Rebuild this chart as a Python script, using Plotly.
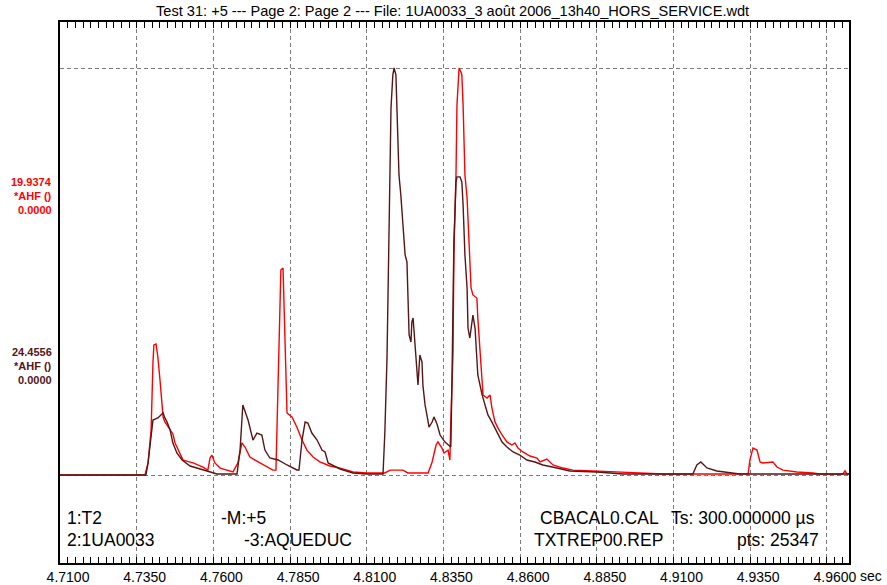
import plotly.graph_objects as go

# ---------------- data ----------------
title_text = "Test 31: +5 --- Page 2: Page 2 --- File: 1UA0033_3 août 2006_13h40_HORS_SERVICE.wdt"

red_t = [4.7100, 4.7377, 4.7387, 4.7397, 4.7403, 4.7406, 4.7413, 4.7419, 4.7426, 4.7432,
         4.7436, 4.7442, 4.7449, 4.7459, 4.7468, 4.7475, 4.7485, 4.7501, 4.7534, 4.7566,
         4.7582, 4.7589, 4.7595, 4.7605, 4.7622, 4.7664, 4.7680, 4.7693, 4.7703, 4.7719,
         4.7736, 4.7752, 4.7775, 4.7794, 4.7804, 4.7811, 4.7817, 4.7820, 4.7827, 4.7833,
         4.7840, 4.7856, 4.7872, 4.7889, 4.7905, 4.7925, 4.7947, 4.7980, 4.8013, 4.8055,
         4.8101, 4.8159, 4.8176, 4.8218, 4.8234, 4.8300, 4.8313, 4.8326, 4.8332, 4.8345,
         4.8352, 4.8365, 4.8371, 4.8374, 4.8381, 4.8384, 4.8391, 4.8394, 4.8401, 4.8407,
         4.8410, 4.8414, 4.8420, 4.8427, 4.8433, 4.8440, 4.8446, 4.8459, 4.8462, 4.8469,
         4.8479, 4.8492, 4.8502, 4.8508, 4.8518, 4.8528, 4.8541, 4.8557, 4.8573, 4.8583,
         4.8593, 4.8609, 4.8632, 4.8655, 4.8665, 4.8687, 4.8707, 4.8740, 4.8772, 4.8837,
         4.8916, 4.8958, 4.9065, 4.9343, 4.9349, 4.9359, 4.9372, 4.9382, 4.9391, 4.9424,
         4.9437, 4.9457, 4.9502, 4.9554, 4.9577, 4.9652, 4.9659, 4.9665, 4.9672]
red_v = [0.00, 0.00, 0.59, 2.20, 5.49, 6.37, 6.42, 5.78, 4.65, 3.67,
         2.84, 2.60, 2.45, 2.20, 2.01, 1.57, 1.22, 0.73, 0.59, 0.39,
         0.24, 0.83, 0.98, 0.59, 0.34, 0.15, 0.59, 1.57, 1.37, 0.88,
         0.73, 0.59, 0.39, 0.24, 0.24, 4.51, 9.06, 10.04, 10.14, 6.12,
         3.04, 2.84, 2.35, 1.71, 1.22, 0.88, 0.64, 0.44, 0.34, 0.15,
         0.10, 0.10, 0.24, 0.24, 0.10, 0.10, 0.64, 1.47, 1.62, 1.32,
         1.08, 1.22, 0.73, 2.60, 5.88, 10.78, 14.84, 18.12, 19.94, 19.74,
         19.59, 18.12, 14.70, 13.57, 11.76, 9.16, 8.82, 8.67, 7.69, 5.88,
         3.92, 3.77, 3.92, 3.28, 2.60, 2.30, 1.96, 1.62, 1.47, 1.57,
         1.32, 1.13, 0.93, 0.83, 0.64, 0.78, 0.49, 0.34, 0.24, 0.20,
         0.15, 0.10, 0.05, 0.05, 0.73, 1.32, 1.22, 0.64, 0.59, 0.64,
         0.39, 0.24, 0.15, 0.10, 0.05, 0.05, 0.20, 0.05, 0.05]

brown_t = [4.7100, 4.7380, 4.7387, 4.7397, 4.7403, 4.7419, 4.7436, 4.7442, 4.7449, 4.7459,
           4.7468, 4.7481, 4.7498, 4.7524, 4.7566, 4.7612, 4.7677, 4.7687, 4.7696, 4.7713,
           4.7729, 4.7742, 4.7758, 4.7768, 4.7784, 4.7811, 4.7840, 4.7872, 4.7879, 4.7889,
           4.7899, 4.7908, 4.7921, 4.7938, 4.7954, 4.7964, 4.7974, 4.8013, 4.8055, 4.8101,
           4.8153, 4.8159, 4.8166, 4.8172, 4.8179, 4.8185, 4.8189, 4.8195, 4.8198, 4.8205,
           4.8211, 4.8215, 4.8218, 4.8225, 4.8231, 4.8234, 4.8238, 4.8244, 4.8247, 4.8251,
           4.8257, 4.8264, 4.8267, 4.8273, 4.8280, 4.8283, 4.8290, 4.8296, 4.8303, 4.8313,
           4.8319, 4.8329, 4.8339, 4.8355, 4.8365, 4.8374, 4.8378, 4.8384, 4.8391, 4.8394,
           4.8404, 4.8410, 4.8414, 4.8420, 4.8427, 4.8430, 4.8436, 4.8443, 4.8446, 4.8453,
           4.8459, 4.8462, 4.8476, 4.8479, 4.8485, 4.8495, 4.8508, 4.8518, 4.8528, 4.8541,
           4.8557, 4.8577, 4.8599, 4.8622, 4.8648, 4.8674, 4.8720, 4.8762, 4.8850, 4.8935,
           4.9163, 4.9170, 4.9176, 4.9189, 4.9209, 4.9241, 4.9294, 4.9316, 4.9672]
brown_v = [0.00, 0.00, 0.72, 2.28, 3.30, 3.43, 3.73, 3.43, 3.18, 2.70,
           1.92, 1.32, 0.90, 0.54, 0.30, 0.06, 0.06, 1.50, 4.21, 3.30,
           2.10, 2.52, 2.40, 1.50, 1.02, 0.90, 0.60, 0.30, 0.30, 2.10,
           3.18, 3.12, 2.52, 2.10, 1.50, 1.38, 0.72, 0.36, 0.12, 0.06,
           0.06, 2.58, 7.03, 15.02, 22.05, 24.04, 24.46, 24.04, 22.23, 18.03,
           16.82, 15.62, 14.84, 13.22, 12.80, 10.82, 8.41, 7.99, 9.19, 9.43,
           7.81, 5.59, 5.41, 7.21, 6.79, 5.41, 4.21, 3.61, 2.88, 3.18,
           3.49, 3.06, 2.40, 1.98, 1.80, 1.68, 6.01, 14.00, 17.61, 17.91,
           17.91, 17.61, 16.22, 13.22, 11.24, 8.83, 8.23, 9.01, 9.61, 8.83,
           7.21, 6.01, 4.81, 4.63, 4.21, 3.61, 3.18, 2.82, 2.40, 1.98,
           1.68, 1.38, 1.20, 0.90, 0.78, 0.60, 0.42, 0.24, 0.18, 0.06,
           0.06, 0.42, 0.60, 0.78, 0.42, 0.24, 0.12, 0.06, 0.06]

red_max = 19.9374
brown_max = 24.4556
red_label = ["19.9374", "*AHF ()", "0.0000"]
brown_label = ["24.4556", "*AHF ()", "0.0000"]

x_ticks = [4.71, 4.735, 4.76, 4.785, 4.81, 4.835, 4.86, 4.885, 4.91, 4.935, 4.96]
x_ticktext = ["4.7100", "4.7350", "4.7600", "4.7850", "4.8100", "4.8350",
              "4.8600", "4.8850", "4.9100", "4.9350", "4.9600"]
x_unit = "sec"

info_left = ["1:T2", "2:1UA0033"]
info_mid = ["-M:+5", "-3:AQUEDUC"]
info_cal = ["CBACAL0.CAL", "TXTREP00.REP"]
info_right = ["Ts: 300.000000 µs", "pts: 25347"]

# ---------------- figure ----------------
RED = "#ff0000"
BROWN = "#561616"
FONT = "Liberation Sans, Arial, sans-serif"

fig = go.Figure()
fig.add_trace(go.Scatter(x=red_t, y=red_v, mode="lines",
                         line=dict(color=RED, width=1.4), yaxis="y", showlegend=False))
fig.add_trace(go.Scatter(x=brown_t, y=brown_v, mode="lines",
                         line=dict(color=BROWN, width=1.4), yaxis="y2", showlegend=False))

W, H = 887, 585
L, R, T, B = 60, 38, 22, 22
ph = H - T - B

def py(p):  # pixel y -> paper
    return (H - B - p) / ph

def px(p):
    return (p - L) / (W - L - R)

grid = dict(showgrid=True, gridcolor="#7a7a7a", griddash="4px,3px", gridwidth=1)

fig.update_layout(
    width=W, height=H,
    margin=dict(l=L, r=R, t=T, b=B, autoexpand=False),
    paper_bgcolor="white", plot_bgcolor="white",
    font=dict(family=FONT, size=12, color="black"),
    xaxis=dict(range=[4.71, 4.9672], tickvals=x_ticks, ticktext=x_ticktext,
               automargin=False,
               ticks="inside", ticklen=6, tickcolor="black", tickwidth=1,
               showline=True, linecolor="black", linewidth=1.5, mirror="allticks",
               ticklabelshift=8, tickfont=dict(size=14, family=FONT),
               minor=dict(dtick=0.0025, tick0=4.71, ticks="inside", ticklen=3,
                          tickcolor="black", showgrid=False),
               zeroline=False, **grid),
    yaxis=dict(range=[-4.311, 22.191], tickvals=[0, red_max], showticklabels=False,
               automargin=False,
               ticks="", showline=True, linecolor="black", linewidth=1.5, mirror=True,
               zeroline=False, **grid),
    yaxis2=dict(range=[-5.289, 27.219], overlaying="y", showticklabels=False,
                automargin=False,
                ticks="", showgrid=False, zeroline=False, showline=False),
)

ann = []
ann.append(dict(text=title_text, x=px(452), xref="paper", y=py(11), yref="paper",
                xanchor="center", yanchor="middle", showarrow=False,
                font=dict(size=14.6, family=FONT)))
for i, s in enumerate(red_label):
    ann.append(dict(text="<b>%s</b>" % s, x=px(54), xref="paper", y=py(182 + 14 * i), yref="paper",
                    xanchor="right", yanchor="middle", showarrow=False,
                    font=dict(size=11, color=RED, family=FONT)))
for i, s in enumerate(brown_label):
    ann.append(dict(text="<b>%s</b>" % s, x=px(54), xref="paper", y=py(352 + 14 * i), yref="paper",
                    xanchor="right", yanchor="middle", showarrow=False,
                    font=dict(size=11, color=BROWN, family=FONT)))
rows = [518, 540]
IF = 17.5
for i in range(2):
    ann.append(dict(text=info_left[i], x=px(65), xref="paper", y=py(rows[i]), yref="paper",
                    xanchor="left", yanchor="middle", showarrow=False, font=dict(size=IF)))
ann.append(dict(text=info_mid[0], x=px(219), xref="paper", y=py(rows[0]), yref="paper",
                xanchor="left", yanchor="middle", showarrow=False, font=dict(size=IF)))
ann.append(dict(text=info_mid[1], x=px(242), xref="paper", y=py(rows[1]), yref="paper",
                xanchor="left", yanchor="middle", showarrow=False, font=dict(size=IF)))
ann.append(dict(text=info_cal[0], x=px(661), xref="paper", y=py(rows[0]), yref="paper",
                xanchor="right", yanchor="middle", showarrow=False, font=dict(size=IF)))
ann.append(dict(text=info_cal[1], x=px(665), xref="paper", y=py(rows[1]), yref="paper",
                xanchor="right", yanchor="middle", showarrow=False, font=dict(size=IF)))
ann.append(dict(text=info_right[0], x=px(817), xref="paper", y=py(rows[0]), yref="paper",
                xanchor="right", yanchor="middle", showarrow=False, font=dict(size=IF)))
ann.append(dict(text=info_right[1], x=px(821), xref="paper", y=py(rows[1]), yref="paper",
                xanchor="right", yanchor="middle", showarrow=False, font=dict(size=IF)))
ann.append(dict(text=x_unit, x=px(858), xref="paper", y=py(576), yref="paper",
                xanchor="left", yanchor="middle", showarrow=False, font=dict(size=14)))
fig.update_layout(annotations=ann)

fig.write_html("out.html", config={"displayModeBar": False},
               post_script="document.body.style.margin='0';document.body.style.overflow='hidden';")
